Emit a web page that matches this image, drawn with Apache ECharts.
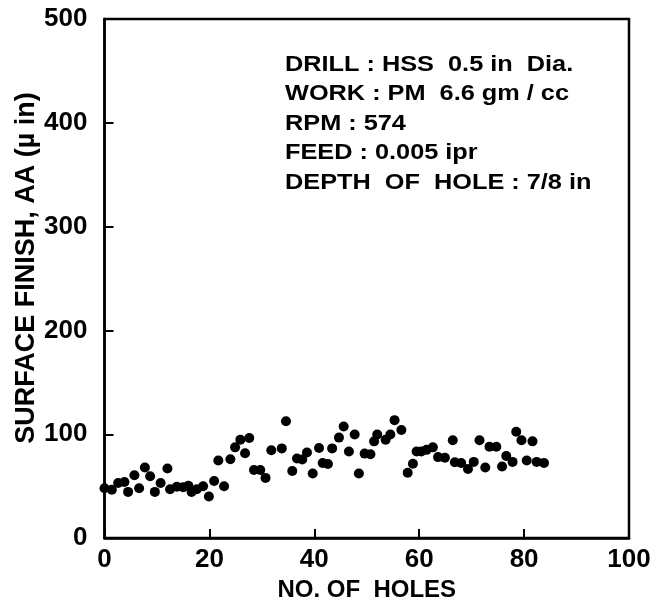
<!DOCTYPE html>
<html><head><meta charset="utf-8">
<script src="https://cdn.jsdelivr.net/npm/echarts@6/dist/echarts.min.js"></script>
<style>html,body{margin:0;padding:0;background:#fff}#c{width:654px;height:607px}</style>
</head><body><div id="c"></div>
<script>
const holes = [0,1.4,2.6,3.8,4.5,5.7,6.6,7.7,8.7,9.6,10.7,12,12.5,13.8,15,16,16.6,17.6,18.8,19.9,20.9,21.7,22.8,24,24.9,25.9,26.8,27.6,28.5,29.7,30.7,31.8,
 33.8,34.6,35.8,36.7,37.7,38.6,39.7,40.9,41.6,42.6,43.4,44.7,45.6,46.6,47.7,48.5,49.6,50.7,51.4,52,53.6,54.5,55.3,56.6,57.8,58.8,59.5,60.4,61.4,62.6,63.6,
 64.9,66.4,66.8,68,69.3,70.4,71.5,72.6,73.4,74.7,75.8,76.6,77.8,78.5,79.5,80.5,81.6,82.4,83.8];
const finish = [48,46.5,53,54,44.5,60.6,48,68,59.6,44.5,53,67,47,49.5,49,50.5,44.5,47,50,40,55,74.7,50,76,87.4,94.8,81.7,96.5,65.6,65.6,58,84.7,
 86.4,112.6,64.6,76.7,75.7,82.4,62.3,86.7,72.4,71.4,86.4,96.8,107.5,83.4,99.8,62.3,81.4,80.7,93.2,99.8,94.8,99.8,113.6,104.2,63,71.7,83.4,83.4,85,87.4,78,
 77.4,94.2,73,72.4,66.6,73.4,94.2,68,88,88,69,79,73.4,102.5,94.2,74.7,93.2,73.4,72.4];
const xTicks = [0,20,40,60,80,100];
const yTicks = [0,100,200,300,400,500];
const notes = ["DRILL : HSS  0.5 in  Dia.","WORK : PM  6.6 gm / cc","RPM : 574","FEED : 0.005 ipr","DEPTH  OF  HOLE : 7/8 in"];
const yTitle = 'SURFACE FINISH, AA (\u00b5 in)';
const xTitle = 'NO. OF  HOLES';

const font = "'Liberation Sans',Arial,sans-serif";
const chart = echarts.init(document.getElementById('c'));
const axLine = {lineStyle:{color:'#000',width:2.5}};
const graphics = notes.map((t,i)=>({type:'text',x:285,y:64.5+i*29.6,scaleX:1.15,
    style:{text:t,fill:'#000',font:'bold 22px '+font,textVerticalAlign:'middle',verticalAlign:'middle'}}));
graphics.push({type:'text',x:27,y:268,rotation:Math.PI/2,
    style:{text:yTitle,fill:'#000',font:'bold 27px '+font,textAlign:'center',align:'center',textVerticalAlign:'middle',verticalAlign:'middle'}});
chart.setOption({
  animation:false,
  grid:{left:104.5,right:25,top:19,bottom:68,show:true,borderColor:'#000',borderWidth:2.5},
  xAxis:{type:'value',min:0,max:100,interval:20,
    axisLine:axLine,axisTick:{inside:true,length:9,lineStyle:{color:'#000',width:2}},
    axisLabel:{color:'#000',fontSize:26,fontWeight:'bold',fontFamily:font,margin:9,showMinLabel:true,showMaxLabel:true},
    splitLine:{show:false},
    name:xTitle,nameLocation:'middle',nameGap:50,
    nameTextStyle:{color:'#000',fontSize:24,fontWeight:'bold',fontFamily:font,verticalAlign:'middle'}},
  yAxis:{type:'value',min:0,max:500,interval:100,
    axisLine:axLine,axisTick:{inside:true,length:9,lineStyle:{color:'#000',width:2}},
    axisLabel:{color:'#000',fontSize:26,fontWeight:'bold',fontFamily:font,margin:17},
    splitLine:{show:false}},
  graphic: graphics,
  series:[{type:'scatter',data:holes.map((h,i)=>[h,finish[i]]),symbol:'circle',symbolSize:10,
    itemStyle:{color:'#000',opacity:1}}]
});
</script></body></html>
